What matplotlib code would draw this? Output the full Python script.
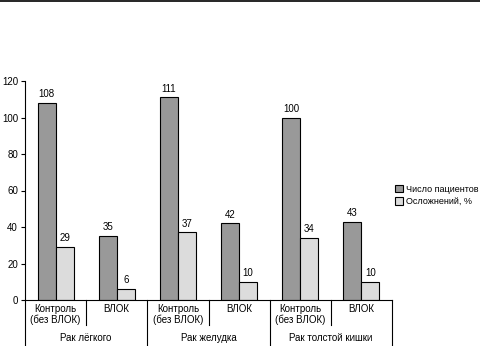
import matplotlib.pyplot as plt
import numpy as np
from matplotlib.lines import Line2D

plt.rcParams['font.family'] = ['Liberation Sans', 'DejaVu Sans']

# data
groups = ['Рак лёгкого', 'Рак желудка', 'Рак толстой кишки']
subcats = ['Контроль\n(без ВЛОК)', 'ВЛОК'] * 3
patients = [108, 35, 111, 42, 100, 43]
complications = [29, 6, 37, 10, 34, 10]
series_names = ['Число пациентов', 'Осложнений, %']

fig = plt.figure(figsize=(4.8, 3.46), dpi=100)
W, H = 480, 346
ax = fig.add_axes([25 / W, 1 - 300 / H, 367 / W, 219 / H])

x = np.arange(len(patients)) + 0.5
bw = 0.295
ax.bar(x - bw / 2, patients, bw, color='#999999', edgecolor='black', linewidth=0.8)
ax.bar(x + bw / 2, complications, bw, color='#dcdcdc', edgecolor='black', linewidth=0.8)

for xi, v in zip(x, patients):
    ax.text(xi - bw / 2, v + 2, str(v), ha='center', va='bottom', fontsize=7)
for xi, v in zip(x, complications):
    ax.text(xi + bw / 2, v + 2, str(v), ha='center', va='bottom', fontsize=7)

ax.set_xlim(0, len(patients))
ax.set_ylim(0, 120)
ax.set_yticks(range(0, 121, 20))
ax.tick_params(axis='y', labelsize=7, length=3, width=0.8, pad=2)
ax.set_xticks([])
for s in ['top', 'right']:
    ax.spines[s].set_visible(False)
ax.spines['left'].set_linewidth(0.8)
ax.spines['bottom'].set_linewidth(0.8)

# category labels and separators below the axis
tr = ax.get_xaxis_transform()
px = 1 / 219
for xi, lab in zip(x, subcats):
    ax.text(xi, -4 * px, lab, ha='center', va='top', fontsize=7, transform=tr,
            linespacing=1.1)
for i in range(len(patients) + 1):
    low = -46 * px if i % 2 == 0 else -25 * px
    ax.add_line(Line2D([i, i], [0, low], transform=tr, color='black',
                       linewidth=0.8, clip_on=False))
for i, g in enumerate(groups):
    ax.text(2 * i + 1, -38 * px, g, ha='center', va='center', fontsize=7,
            transform=tr)

# legend
handles = [plt.Rectangle((0, 0), 1, 1, facecolor='#999999', edgecolor='black', linewidth=0.8),
           plt.Rectangle((0, 0), 1, 1, facecolor='#dcdcdc', edgecolor='black', linewidth=0.8)]
fig.legend(handles, series_names, loc='upper left', bbox_to_anchor=(390 / W, 1 - 180 / H),
           frameon=False, fontsize=6.5, handlelength=0.9, handleheight=0.9,
           handletextpad=0.4, labelspacing=0.4, borderpad=0)

# top border line
fig.add_artist(Line2D([0, 1], [1 - 1 / H, 1 - 1 / H], transform=fig.transFigure,
                      color='black', linewidth=1.2))

fig.savefig('out.png', dpi=100)
